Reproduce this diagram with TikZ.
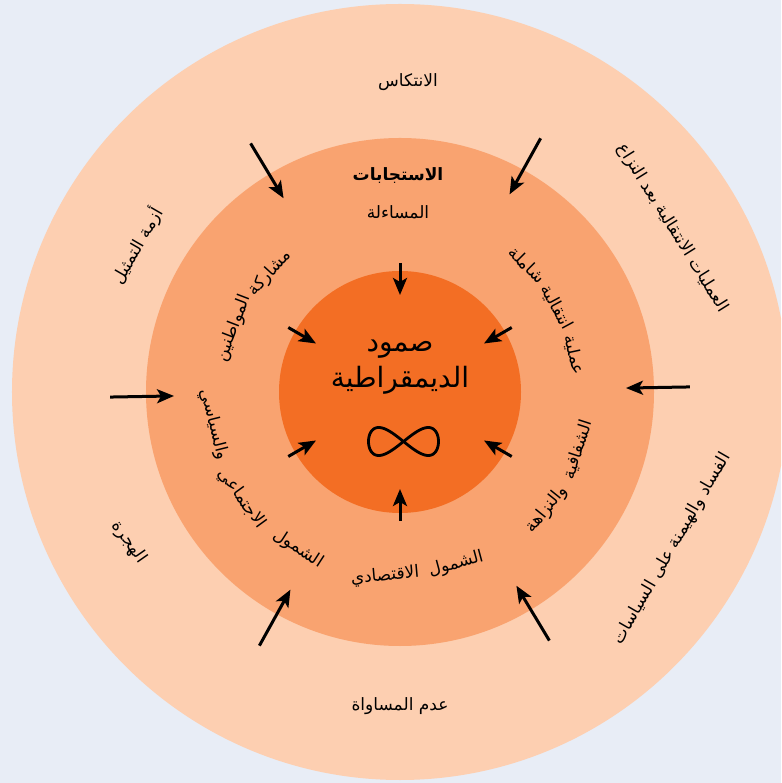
\documentclass[tikz,border=0pt]{standalone}
\usepackage{fontspec}
\newfontfamily\arabicfont[Script=Arabic]{DejaVu Sans}
\TeXXeTstate=1
\usetikzlibrary{arrows.meta}
\definecolor{bgblue}{RGB}{232,237,246}
\definecolor{ringout}{RGB}{253,207,177}
\definecolor{ringmid}{RGB}{249,163,112}
\definecolor{ringin}{RGB}{243,110,36}
\newcommand{\artxt}[1]{{\arabicfont\beginR #1\endR}}

\begin{document}
\begin{tikzpicture}[x=1pt,y=1pt,>={Stealth[length=17pt,width=14pt,inset=4pt]},
                    line width=3pt, font=\fontsize{17}{20}\selectfont]
    \tikzstyle{ring}=[circle,draw=none,inner sep=0pt]
    \tikzstyle{word}=[inner sep=0pt,text=black]

    \useasboundingbox (-400,-391) rectangle (381,392);
    \clip (-400,-391) rectangle (381,392);
    \fill[bgblue] (-400,-391) rectangle (381,392);

    \node[ring,fill=ringout,minimum size=776pt] (R) at (0,0) {};
    \node[ring,fill=ringmid,minimum size=508pt] (M) at (0,0) {};
    \node[ring,fill=ringin,minimum size=242pt] (C) at (0,0) {};

    \node[word] (T1) at (8,310) {\artxt{الانتكاس}};
    \node[word,rotate=-58] (T2) at (31:318) {\artxt{العمليات الانتقالية بعد النزاع}};
    \node[word,rotate=60] (T3) at (-30:314) {\artxt{الفساد والهيمنة على السياسات}};
    \node[word] (T4) at (0,-314) {\artxt{عدم المساواة}};
    \node[word,rotate=-55] (T5) at (209:310) {\artxt{الهجرة}};
    \node[word,rotate=60] (T6) at (151:301) {\artxt{أزمة التمثيل}};

    \node[word,font=\bfseries\fontsize{17}{20}\selectfont] (H) at (-2,216) {\artxt{الاستجابات}};
    \node[word] (A) at (-2,180) {\artxt{المساءلة}};
    \node[word,rotate=47.5] (B1) at (137.5:176) {\artxt{مشاركة}};
    \node[word,rotate=69] (B2) at (159:178) {\artxt{المواطنين}};
    \node[word,rotate=-45] (E1) at (45:180) {\artxt{شاملة}};
    \node[word,rotate=-61.6] (E2) at (28.4:178) {\artxt{انتقالية}};
    \node[word,rotate=-78] (E3) at (12:178) {\artxt{عملية}};
    \node[word,rotate=72] (F1) at (-18:187) {\artxt{الشفافية}};
    \node[word,rotate=51.3] (F2) at (-38.7:188) {\artxt{والنزاهة}};
    \node[word,rotate=15] (G1) at (56,-172) {\artxt{الشمول}};
    \node[word,rotate=5] (G2) at (-15,-184) {\artxt{الاقتصادي}};
    \node[word,rotate=-33] (K1) at (237:187) {\artxt{الشمول}};
    \node[word,rotate=-54] (K2) at (214:191) {\artxt{الاجتماعي}};
    \node[word,rotate=-76] (K3) at (190:189) {\artxt{والسياسي}};

    \node[word,font=\fontsize{28}{32}\selectfont] (S1) at (0,43) {\artxt{صمود}};
    \node[word,font=\fontsize{28}{32}\selectfont] (S2) at (0,12) {\artxt{الديمقراطية}};
    \draw[line width=2.8pt,line join=round]
        plot[domain=0:360,samples=121] ({3.5+35*sin(\x)},{-49.5+14*sin(2*\x)});

    \foreach \a [count=\i] in {30,90,...,330} {
        \coordinate (p\i) at (\a:129);
        \coordinate (q\i) at (\a:97);
        \draw[->] (p\i) -- (q\i);
    }
    \foreach \a [count=\i] in {1,61,...,301} {
        \coordinate (u\i) at (\a:290);
        \coordinate (v\i) at (\a:226);
        \draw[->] (u\i) -- (v\i);
    }
\end{tikzpicture}
\end{document}
